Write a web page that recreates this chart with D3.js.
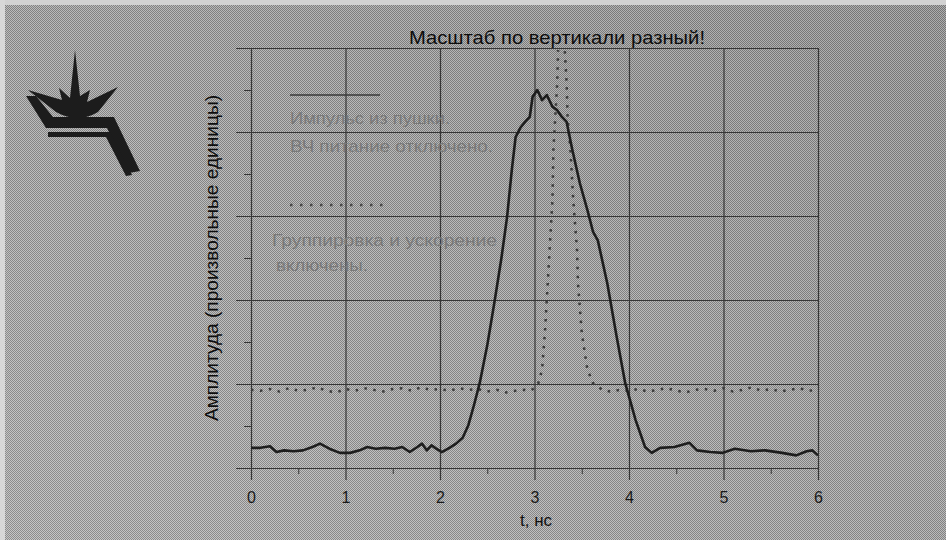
<!DOCTYPE html>
<html>
<head>
<meta charset="utf-8">
<script src="https://cdn.jsdelivr.net/npm/d3@7"></script>
<style>
  body { margin: 0; background: #a8a8a8; }
  svg { display: block; }
  text { font-family: "Liberation Sans Narrow", "Liberation Sans", Arial, sans-serif; }
</style>
</head>
<body>
<div id="chart"></div>
<script>
// ось времени, нс
const xTicks = [0, 1, 2, 3, 4, 5, 6];
const xMinor = [0.5, 1.5, 2.5, 3.5, 4.5, 5.5];
// амплитуда в условных делениях сетки
const yTicks = [0, 1, 2, 3, 4, 5];
const yMinor = [0.5, 1.5, 2.5, 3.5, 4.5];

// импульс из пушки (сплошная)
const gunT = [0, 0.1, 0.2, 0.27, 0.35, 0.45, 0.55, 0.65, 0.73, 0.83, 0.94, 1.05, 1.15, 1.23, 1.32, 1.42, 1.52, 1.6, 1.68, 1.76, 1.81, 1.86, 1.91, 1.96, 2.02, 2.1, 2.17, 2.24, 2.3, 2.36, 2.42, 2.5, 2.58, 2.65, 2.71, 2.76, 2.8, 2.85, 2.9, 2.95, 2.98, 3.03, 3.08, 3.13, 3.19, 3.24, 3.29, 3.34, 3.4, 3.48, 3.56, 3.62, 3.67, 3.77, 3.87, 3.96, 4.01, 4.07, 4.17, 4.24, 4.33, 4.48, 4.64, 4.72, 4.86, 4.99, 5.12, 5.29, 5.44, 5.62, 5.77, 5.88, 5.94, 6.0];
const gunA = [0.24, 0.24, 0.26, 0.19, 0.21, 0.2, 0.21, 0.25, 0.29, 0.23, 0.18, 0.18, 0.21, 0.25, 0.23, 0.24, 0.23, 0.25, 0.19, 0.25, 0.29, 0.21, 0.27, 0.23, 0.19, 0.24, 0.29, 0.36, 0.51, 0.75, 1.01, 1.46, 2.0, 2.5, 2.99, 3.55, 3.94, 4.05, 4.12, 4.18, 4.42, 4.5, 4.38, 4.44, 4.3, 4.26, 4.18, 4.12, 3.79, 3.39, 3.07, 2.81, 2.71, 2.2, 1.56, 1.01, 0.81, 0.57, 0.25, 0.18, 0.24, 0.25, 0.3, 0.21, 0.19, 0.18, 0.23, 0.2, 0.21, 0.18, 0.15, 0.2, 0.21, 0.15];

// группировка и ускорение включены (пунктир)
const accT = [0, 0.1, 0.2, 0.3, 0.4, 0.5, 0.6, 0.7, 0.8, 0.9, 1.0, 1.1, 1.2, 1.3, 1.4, 1.5, 1.6, 1.7, 1.8, 1.9, 2.0, 2.1, 2.2, 2.3, 2.4, 2.5, 2.6, 2.7, 2.8, 2.9, 2.95, 3.0, 3.04, 3.08, 3.11, 3.14, 3.16, 3.19, 3.2, 3.22, 3.24, 3.25, 3.29, 3.32, 3.34, 3.35, 3.38, 3.41, 3.45, 3.46, 3.5, 3.56, 3.62, 3.72, 3.8, 3.9, 4.0, 4.1, 4.2, 4.3, 4.4, 4.5, 4.6, 4.7, 4.8, 4.9, 5.0, 5.1, 5.2, 5.3, 5.4, 5.5, 5.6, 5.7, 5.8, 5.9, 6.0];
const accA = [0.93, 0.92, 0.94, 0.91, 0.95, 0.92, 0.93, 0.96, 0.92, 0.9, 0.94, 0.92, 0.95, 0.93, 0.91, 0.94, 0.95, 0.92, 0.96, 0.93, 0.94, 0.92, 0.95, 0.93, 0.94, 0.91, 0.93, 0.9, 0.92, 0.93, 0.92, 0.95, 1.01, 1.17, 1.61, 2.2, 2.6, 3.19, 3.79, 4.18, 4.58, 4.98, 5.6, 4.98, 4.58, 4.18, 3.79, 3.19, 2.6, 2.2, 1.61, 1.17, 1.01, 0.93, 0.91, 0.93, 0.92, 0.94, 0.91, 0.93, 0.95, 0.92, 0.9, 0.93, 0.94, 0.92, 0.95, 0.91, 0.93, 0.96, 0.92, 0.94, 0.91, 0.93, 0.95, 0.92, 0.93];

const width = 946, height = 540;
const svg = d3.select('#chart').append('svg')
    .attr('width', width)
    .attr('height', height);

const defs = svg.append('defs');

// фон: серый растр, как у отсканированного слайда
const grad = defs.append('linearGradient')
    .attr('id', 'bg').attr('x1', '0').attr('y1', '1').attr('x2', '1').attr('y2', '0');
grad.append('stop').attr('offset', '0').attr('stop-color', '#b6b6b6');
grad.append('stop').attr('offset', '0.55').attr('stop-color', '#a6a6a6');
grad.append('stop').attr('offset', '1').attr('stop-color', '#959595');

const pat = defs.append('pattern')
    .attr('id', 'dither').attr('width', 2).attr('height', 2)
    .attr('patternUnits', 'userSpaceOnUse');
pat.append('rect').attr('x', 0).attr('y', 0).attr('width', 1).attr('height', 1).attr('fill', 'rgba(0,0,0,0.22)');
pat.append('rect').attr('x', 1).attr('y', 1).attr('width', 1).attr('height', 1).attr('fill', 'rgba(0,0,0,0.22)');
pat.append('rect').attr('x', 1).attr('y', 0).attr('width', 1).attr('height', 1).attr('fill', 'rgba(255,255,255,0.22)');
pat.append('rect').attr('x', 0).attr('y', 1).attr('width', 1).attr('height', 1).attr('fill', 'rgba(255,255,255,0.22)');

svg.append('rect').attr('width', width).attr('height', height).attr('fill', 'url(#bg)');
svg.append('rect').attr('width', width).attr('height', height).attr('fill', 'url(#dither)');
svg.append('rect').attr('width', width).attr('height', 5).attr('fill', '#d2d2d2');
svg.append('rect').attr('width', 5).attr('height', height).attr('fill', '#d8d8d8');

const x = d3.scaleLinear().domain([0, 6]).range([251, 818]);
const y = d3.scaleLinear().domain([0, 5]).range([468, 48]);

defs.append('clipPath').attr('id', 'plot')
    .append('rect')
    .attr('x', x(0)).attr('y', y(5) + 2)
    .attr('width', x(6) - x(0)).attr('height', y(0) - y(5));

const gridColor = '#363636';

// вертикальная сетка + подписи по оси t
const gx = svg.append('g')
    .attr('transform', `translate(0,${y(5)})`)
    .call(d3.axisBottom(x).tickValues(xTicks).tickFormat(d3.format('d'))
        .tickSize(y(0) - y(5) + 12).tickPadding(12).tickSizeOuter(0));
gx.select('.domain').remove();
gx.selectAll('line').attr('stroke', gridColor).attr('stroke-width', 1.2);
gx.selectAll('text')
    .attr('fill', '#1a1a1a')
    .style('font-size', '16px')
    .style('font-family', 'Liberation Sans, Arial, sans-serif');

const gxm = svg.append('g')
    .attr('transform', `translate(0,${y(0)})`)
    .call(d3.axisBottom(x).tickValues(xMinor).tickSize(6).tickFormat(''));
gxm.select('.domain').remove();
gxm.selectAll('line').attr('stroke', gridColor);

// горизонтальная сетка
const gy = svg.append('g')
    .attr('transform', `translate(${x(6)},0)`)
    .call(d3.axisLeft(y).tickValues(yTicks).tickSize(x(6) - x(0) + 15).tickFormat(''));
gy.select('.domain').remove();
gy.selectAll('line').attr('stroke', gridColor).attr('stroke-width', 1.2);

const gym = svg.append('g')
    .attr('transform', `translate(${x(0)},0)`)
    .call(d3.axisLeft(y).tickValues(yMinor).tickSize(7).tickFormat(''));
gym.select('.domain').remove();
gym.selectAll('line').attr('stroke', gridColor);

// легенда (блёклый текст прямо на поле графика)
const legendColor = '#797979';
svg.append('line').attr('x1', 290).attr('x2', 380).attr('y1', 95).attr('y2', 95)
    .attr('stroke', '#3a3a3a').attr('stroke-width', 1.5);
svg.append('line').attr('x1', 290).attr('x2', 386).attr('y1', 205).attr('y2', 205)
    .attr('stroke', '#4a4a4a').attr('stroke-width', 2.5).attr('stroke-dasharray', '2.5,7.5');

const legendLines = [
    { text: 'Импульс из пушки.', x: 290, y: 124, w: 160 },
    { text: 'ВЧ питание отключено.', x: 290, y: 152, w: 203 },
    { text: 'Группировка и ускорение', x: 272, y: 246, w: 225 },
    { text: 'включены.', x: 276, y: 271, w: 92 }
];
svg.append('g').selectAll('text')
    .data(legendLines)
    .enter().append('text')
    .attr('x', d => d.x).attr('y', d => d.y)
    .attr('textLength', d => d.w).attr('lengthAdjust', 'spacingAndGlyphs')
    .attr('fill', legendColor)
    .style('font-size', '17px')
    .text(d => d.text);

// кривые
const line = d3.line().x(d => x(d[0])).y(d => y(d[1]));
const plot = svg.append('g').attr('clip-path', 'url(#plot)');

plot.append('path')
    .datum(d3.zip(accT, accA))
    .attr('fill', 'none')
    .attr('stroke', '#3c3c3c')
    .attr('stroke-width', 2.5)
    .attr('stroke-dasharray', '2.5,6.5')
    .attr('d', line);

plot.append('path')
    .datum(d3.zip(gunT, gunA))
    .attr('fill', 'none')
    .attr('stroke', '#1e1e1e')
    .attr('stroke-width', 2.6)
    .attr('stroke-linejoin', 'round')
    .attr('d', line);

// заголовок и подписи осей
svg.append('text')
    .attr('x', 557).attr('y', 44)
    .attr('text-anchor', 'middle')
    .attr('textLength', 296).attr('lengthAdjust', 'spacingAndGlyphs')
    .attr('fill', '#0d0d0d')
    .style('font-size', '19px')
    .text('Масштаб по вертикали разный!');

svg.append('text')
    .attr('x', 536).attr('y', 526)
    .attr('text-anchor', 'middle')
    .attr('fill', '#111')
    .style('font-size', '17px')
    .text('t, нс');

svg.append('text')
    .attr('transform', 'translate(218,258) rotate(-90)')
    .attr('text-anchor', 'middle')
    .attr('textLength', 326).attr('lengthAdjust', 'spacingAndGlyphs')
    .attr('fill', '#0d0d0d')
    .style('font-size', '18px')
    .text('Амплитуда (произвольные единицы)');

// эмблема в левом верхнем углу
const logo = svg.append('g').attr('fill', '#1c1c1c');
logo.append('path')
    .attr('d', 'M75,50 L80,96 L90,90 L87,102 L118,87 L98,112 Q78,124 56,112 L28,90 L62,100 L59,88 L70,98 Z');
logo.append('path')
    .attr('d', 'M26,96 L36,96 L53,117 L114,117 L140,171 L129,173 L107,128 L46,128 Z');
logo.append('path')
    .attr('d', 'M48,132 L110,132 L132,175 L126,176 L106,137 L48,137 Z');
</script>
</body>
</html>
